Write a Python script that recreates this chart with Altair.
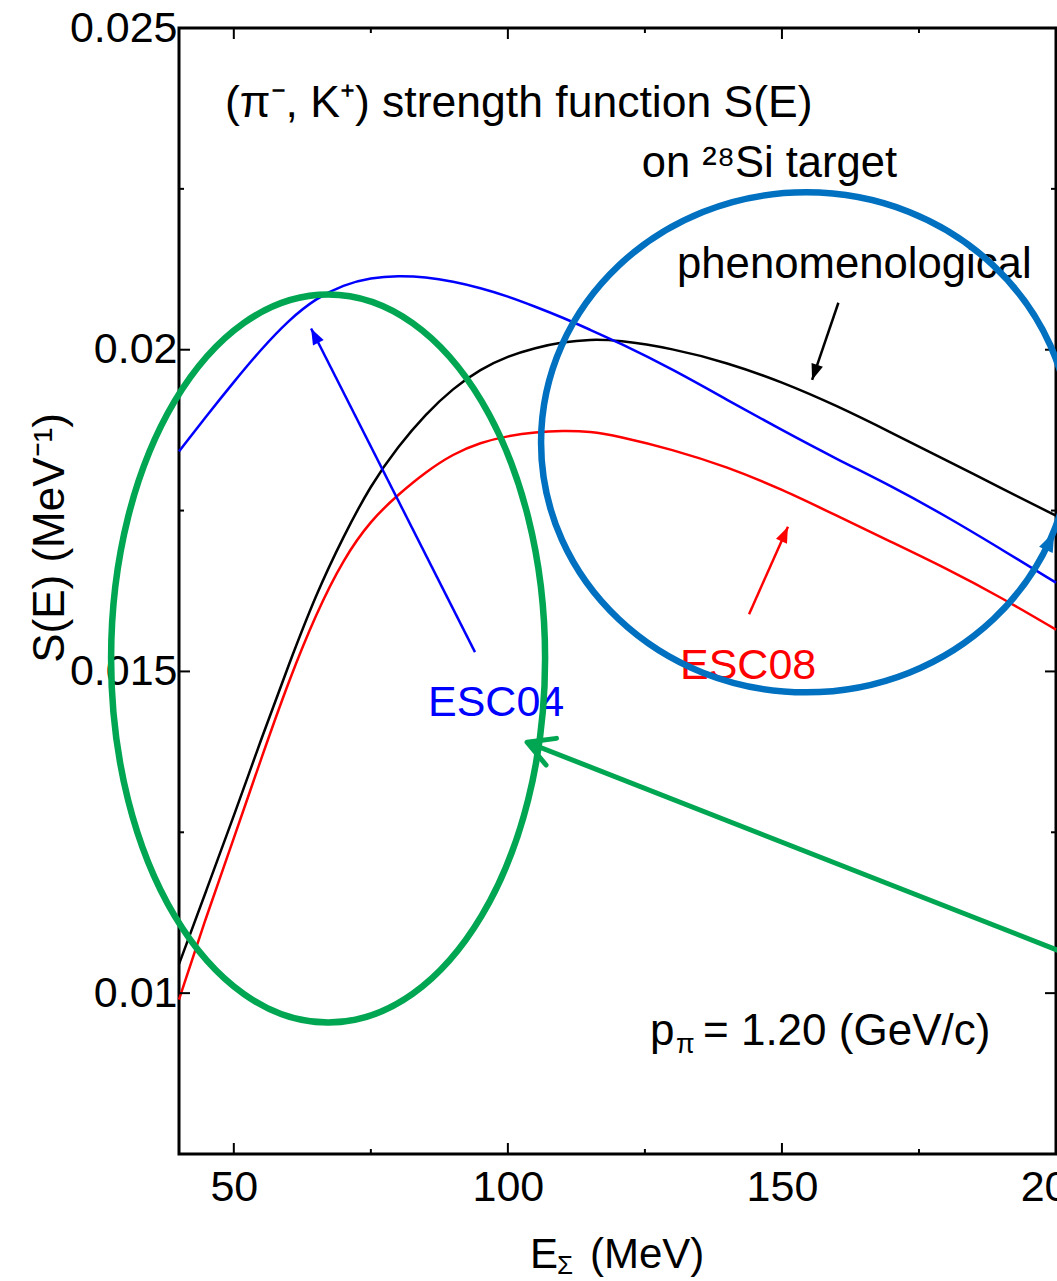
import math

import altair as alt
import pandas as pd

FONT = "Liberation Sans"

# ---------------------------------------------------------------------------
# (pi-, K+) strength function S(E) on 28Si, p_pi = 1.20 GeV/c
# ---------------------------------------------------------------------------
energy = [40, 45, 50, 55, 60, 65, 70, 75, 80, 85, 90, 95, 100, 105, 110,
          115, 120, 130, 140, 150, 160, 170, 180, 190, 200]
s_phenom = [0.01045, 0.01160, 0.01275, 0.01395, 0.01510, 0.01620, 0.01710,
            0.01790, 0.01850, 0.01900, 0.01940, 0.01970, 0.01990, 0.02003,
            0.02012, 0.02016, 0.02015, 0.02002, 0.01980, 0.01950, 0.01913,
            0.01871, 0.01828, 0.01785, 0.01742]
s_esc04 = [0.01842, 0.01897, 0.01950, 0.02001, 0.02046, 0.02080, 0.02101,
           0.02112, 0.02115, 0.02113, 0.02106, 0.02096, 0.02083, 0.02067,
           0.02050, 0.02031, 0.02012, 0.01970, 0.01922, 0.01875, 0.01830,
           0.01788, 0.01741, 0.01690, 0.01638]
s_esc08 = [0.00990, 0.01120, 0.01240, 0.01365, 0.01485, 0.01590, 0.01675,
           0.01735, 0.01775, 0.01810, 0.01838, 0.01856, 0.01866, 0.01872,
           0.01874, 0.01873, 0.01866, 0.01845, 0.01818, 0.01783, 0.01742,
           0.01701, 0.01660, 0.01615, 0.01565]

series_names = ["phenomenological", "ESC04", "ESC08"]
series_colors = ["#000000", "#0000ff", "#ff0000"]

x_major = [50, 100, 150, 200]
x_minor = [75, 125, 175]
y_major = [0.01, 0.015, 0.02, 0.025]
y_minor = [0.0125, 0.0175, 0.0225]

# pointer arrows: tail (E, S) -> tip (E, S)
arrow_e0 = [94.0, 144.0, 160.3]
arrow_s0 = [0.01530, 0.01589, 0.02073]
arrow_e1 = [64.1, 151.1, 155.5]
arrow_s1 = [0.02033, 0.01725, 0.01953]
arrow_colors = ["#0000ff", "#ff0000", "#000000"]

# highlight ellipses (centre in data units)
ellipse_e = [67.2, 154.4]
ellipse_s = [0.0152, 0.01856]

# long green pointer
green_e = [205.0, 103.5]
green_s = [0.01051, 0.0139]

# small arrowhead closing the blue ellipse
blue_tip_e = [199.7]
blue_tip_s = [0.01717]

# ---------------------------------------------------------------------------
W, H = 877, 1126
E_LO, E_HI = 40, 200
S_LO, S_HI = 0.0075, 0.025
GREEN = "#00a651"
BLUE_RING = "#0070c0"

xs = alt.Scale(domain=[E_LO, E_HI], nice=False, zero=False)
ys = alt.Scale(domain=[S_LO, S_HI], nice=False, zero=False)


def screen_angle(e0, s0, e1, s1):
    dx = (e1 - e0) * W / (E_HI - E_LO)
    dy = -(s1 - s0) * H / (S_HI - S_LO)
    return math.degrees(math.atan2(dy, dx)) % 360


def ellipse_path(a, b):
    k = 0.5523
    return (f"M {a} 0 C {a} {k*b} {k*a} {b} 0 {b} "
            f"C {-k*a} {b} {-a} {k*b} {-a} 0 "
            f"C {-a} {-k*b} {-k*a} {-b} 0 {-b} "
            f"C {k*a} {-b} {a} {-k*b} {a} 0 Z")


HEAD = "M 0 0 L -2 -0.75 L -2 0.75 Z"
CHEVRON = "M -2 -1.1 L 0 0 L -2 1.1"

x_axis = alt.Axis(values=x_major, title=None, ticks=False, tickSize=0,
                  domain=False, grid=False, labelFont=FONT, labelFontSize=43,
                  labelColor="black", labelPadding=12, labelFlush=False,
                  labelOverlap=False)
y_axis = alt.Axis(values=y_major, format=".3~f", title=None, ticks=False,
                  tickSize=0, domain=False, grid=False, labelFont=FONT,
                  labelFontSize=43, labelColor="black", labelPadding=2,
                  labelFlush=False, labelOverlap=False)


def xq(field):
    return alt.X(f"{field}:Q", scale=xs, axis=x_axis)


def yq(field):
    return alt.Y(f"{field}:Q", scale=ys, axis=y_axis)


rows = []
for name, vals in zip(series_names, [s_phenom, s_esc04, s_esc08]):
    for e, s in zip(energy, vals):
        rows.append({"E": e, "S": s, "series": name})
curve_df = pd.DataFrame(rows)

curves = alt.Chart(curve_df).mark_line(strokeWidth=2.5, interpolate="basis").encode(
    x=xq("E"),
    y=yq("S"),
    color=alt.Color("series:N", scale=alt.Scale(domain=series_names, range=series_colors), legend=None),
)


# inward ticks on all four sides
def x_ticks(values, length):
    d = alt.Chart(pd.DataFrame({"E": values})).mark_rule(color="black", strokeWidth=2)
    return (d.encode(x=xq("E"), y=alt.value(H), y2=alt.value(H - length))
            + d.encode(x=xq("E"), y=alt.value(0), y2=alt.value(length)))


def y_ticks(values, length):
    d = alt.Chart(pd.DataFrame({"S": values})).mark_rule(color="black", strokeWidth=2)
    return (d.encode(y=yq("S"), x=alt.value(0), x2=alt.value(length))
            + d.encode(y=yq("S"), x=alt.value(W), x2=alt.value(W - length)))


ticks = x_ticks(x_major, 11) + x_ticks(x_minor, 5) + y_ticks(y_major, 11) + y_ticks(y_minor, 5)

# pointer arrows
arrow_df = pd.DataFrame({
    "E0": arrow_e0, "S0": arrow_s0, "E1": arrow_e1, "S1": arrow_s1,
    "col": arrow_colors,
    "ang": [screen_angle(a, b, c, d) for a, b, c, d in zip(arrow_e0, arrow_s0, arrow_e1, arrow_s1)],
})
arrow_lines = alt.Chart(arrow_df).mark_rule(strokeWidth=2.5).encode(
    x=xq("E0"), x2="E1:Q", y=yq("S0"), y2="S1:Q",
    color=alt.Color("col:N", scale=None),
)
arrow_heads = alt.Chart(arrow_df).mark_point(shape=HEAD, filled=True, opacity=1, size=256, strokeWidth=0).encode(
    x=xq("E1"), y=yq("S1"),
    angle=alt.Angle("ang:Q", scale=None),
    color=alt.Color("col:N", scale=None),
)

# highlight rings
green_ring = alt.Chart(pd.DataFrame({"E": [ellipse_e[0]], "S": [ellipse_s[0]]})).mark_point(
    shape=ellipse_path(217 / 364, 1.0), filled=False, opacity=1, strokeWidth=6.5, color=GREEN,
).encode(x=xq("E"), y=yq("S"), size=alt.value((2 * 364) ** 2))

blue_ring = alt.Chart(pd.DataFrame({"E": [ellipse_e[1]], "S": [ellipse_s[1]]})).mark_point(
    shape=ellipse_path(1.0, 250 / 265), filled=False, opacity=1, strokeWidth=6.5, color=BLUE_RING,
).encode(x=xq("E"), y=yq("S"), size=alt.value((2 * 265) ** 2))

blue_ring_tip = alt.Chart(pd.DataFrame({"E": blue_tip_e, "S": blue_tip_s})).mark_point(
    shape=HEAD, filled=True, opacity=1, size=400, strokeWidth=0, color=BLUE_RING,
).encode(x=xq("E"), y=yq("S"), angle=alt.value(295))

green_df = pd.DataFrame({"E0": [green_e[0]], "S0": [green_s[0]], "E1": [green_e[1]], "S1": [green_s[1]]})
green_line = alt.Chart(green_df).mark_rule(strokeWidth=5, color=GREEN).encode(
    x=xq("E0"), x2="E1:Q", y=yq("S0"), y2="S1:Q",
)
green_head = alt.Chart(green_df).mark_point(
    shape=CHEVRON, filled=False, opacity=1, strokeWidth=5, color=GREEN, size=676,
    strokeCap="round", strokeJoin="round",
).encode(
    x=xq("E1"), y=yq("S1"),
    angle=alt.value(screen_angle(green_e[0], green_s[0], green_e[1], green_s[1])),
)


# text annotations (positions in pixels from the plot's top-left corner)
def label(text, x, y, size=43, color="black", align="left", angle=0):
    kw = dict(text=text, font=FONT, fontSize=size, color=color, align=align, baseline="alphabetic")
    if angle:
        kw["angle"] = angle
    return alt.Chart(pd.DataFrame({"k": [0]})).mark_text(**kw).encode(
        x=alt.value(x), y=alt.value(y))


texts = (
    label("(π⁻, K⁺) strength function S(E)", 46, 89, size=44.5)
    + label("on ²⁸Si target", 718, 149, size=43.5, align="right")
    + label("phenomenological", 498, 250, size=43.7)
    + label("ESC04", 249, 688, color="#0000ff")
    + label("ESC08", 501, 651, color="#ff0000")
    + label("p", 471, 1017, size=44)
    + label("π", 497, 1025, size=27)
    + label("= 1.20 (GeV/c)", 524, 1017, size=44)
    + label("E", 351, 1240, size=42)
    + label("Σ", 378, 1246, size=26)
    + label("(MeV)", 411, 1240, size=42)
    + label("S(E)  (MeV⁻¹)", -115, 510, size=44, align="center", angle=270)
)

chart = alt.layer(
    curves, ticks, texts, arrow_lines, arrow_heads,
    green_ring, blue_ring, blue_ring_tip, green_line, green_head,
).properties(
    width=W, height=H,
    autosize=alt.AutoSizeParams(type="none"),
    padding={"left": 179, "top": 28, "right": 1, "bottom": 127},
    background="white",
).configure_view(stroke="black", strokeWidth=3)

chart.save("out.html", embed_options={"renderer": "svg", "actions": False})
